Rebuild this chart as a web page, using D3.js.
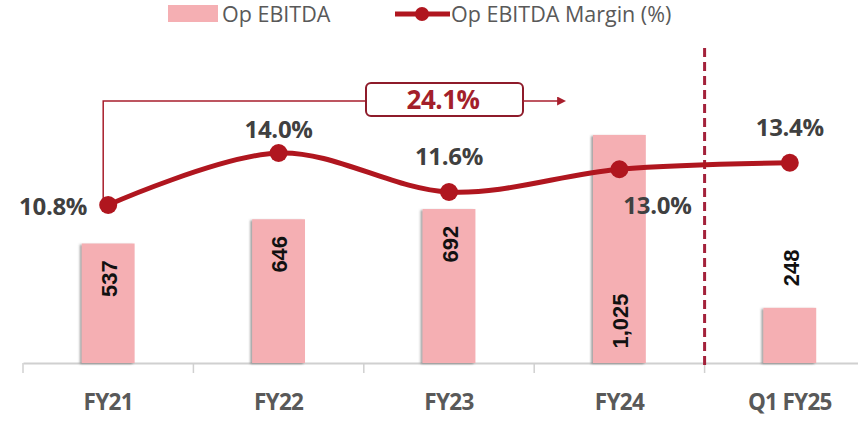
<!DOCTYPE html>
<html>
<head>
<meta charset="utf-8">
<script src="https://cdn.jsdelivr.net/npm/d3@7"></script>
<style>
  body { margin: 0; background: #fff; }
  svg { display: block; }
</style>
</head>
<body>
<div id="chart"></div>
<script>
// chart data
var categories = ['FY21', 'FY22', 'FY23', 'FY24', 'Q1 FY25'];
var ebitda = [537, 646, 692, 1025, 248];
var ebitdaLabels = ['537', '646', '692', '1,025', '248'];
var margin = [10.8, 14.0, 11.6, 13.0, 13.4];
var marginLabels = ['10.8%', '14.0%', '11.6%', '13.0%', '13.4%'];
var cagrLabel = '24.1%';

// where each label sits (bar labels / margin labels)
var barLabelPos = ['inEnd', 'inEnd', 'inEnd', 'inBase', 'outEnd'];
var marginLabelPos = ['left', 'topNear', 'top', 'bottomRight', 'top'];

var width = 858, height = 421;
var baseY = 363;

var svg = d3.select('#chart').append('svg')
    .attr('width', width)
    .attr('height', height);

var defs = svg.append('defs');
var shadow = defs.append('filter').attr('id', 'shadow')
    .attr('x', '-20%').attr('y', '-5%').attr('width', '140%').attr('height', '110%');
shadow.append('feDropShadow')
    .attr('dx', -2).attr('dy', 1)
    .attr('stdDeviation', 1.3)
    .attr('flood-color', '#555')
    .attr('flood-opacity', 0.55);

defs.append('marker').attr('id', 'arrow')
    .attr('viewBox', '0 0 10 10')
    .attr('refX', 1).attr('refY', 5)
    .attr('markerWidth', 6).attr('markerHeight', 6)
    .attr('orient', 'auto')
  .append('path')
    .attr('d', 'M0,0 L10,5 L0,10 Z')
    .attr('fill', '#A81E2C');

// scales
var x = d3.scaleBand()
    .domain(categories)
    .range([23, 875])
    .paddingInner(0.69)
    .paddingOuter(0.345);
var step = x.step();
var cx = function(c) { return x(c) + x.bandwidth() / 2; };

var yBar = d3.scaleLinear().domain([0, 1200]).range([baseY, baseY - 267]);
var yLine = d3.scaleLinear().domain([0, 20]).range([380.5, 55.5]);

// axis
var axis = d3.axisBottom(x).tickSize(0).tickSizeOuter(0).tickPadding(31);
var gx = svg.append('g')
    .attr('transform', 'translate(0,' + baseY + ')')
    .call(axis);
gx.select('.domain').attr('stroke', '#d0d0d0').attr('stroke-width', 2);
gx.selectAll('text')
    .attr('font-family', 'Open Sans, sans-serif')
    .attr('font-weight', 700)
    .attr('font-size', 22.5)
    .attr('letter-spacing', '-0.7')
    .attr('fill', '#595959');
gx.selectAll('.tickmark').data(categories).enter().append('line')
    .attr('x1', function(d) { return cx(d) - step / 2; })
    .attr('x2', function(d) { return cx(d) - step / 2; })
    .attr('y1', 0).attr('y2', 10)
    .attr('stroke', '#d0d0d0').attr('stroke-width', 1.5);

// bars
svg.selectAll('.bar').data(categories).enter().append('rect')
    .attr('class', 'bar')
    .attr('x', function(d) { return x(d); })
    .attr('width', x.bandwidth())
    .attr('y', function(d, i) { return yBar(ebitda[i]); })
    .attr('height', function(d, i) { return baseY - yBar(ebitda[i]); })
    .attr('fill', '#F5AFB3')
    .attr('filter', 'url(#shadow)');

// divider before the quarter
var divX = cx(categories[4]) - step / 2;
svg.append('line')
    .attr('x1', divX).attr('x2', divX)
    .attr('y1', 48).attr('y2', baseY + 6)
    .attr('stroke', '#A3213A')
    .attr('stroke-width', 3)
    .attr('stroke-dasharray', '9,5');

// bar value labels
svg.selectAll('.barlabel').data(categories).enter().append('text')
    .attr('class', 'barlabel')
    .attr('transform', function(d, i) {
        var top = yBar(ebitda[i]), yc;
        if (barLabelPos[i] === 'inEnd') yc = top + 35;
        else if (barLabelPos[i] === 'inBase') yc = baseY - 42;
        else yc = top - 40;
        return 'translate(' + (cx(d) + 1) + ',' + yc + ') rotate(-90)';
    })
    .attr('text-anchor', 'middle')
    .attr('dy', '0.35em')
    .attr('font-family', 'Liberation Sans, Arial, sans-serif')
    .attr('font-weight', 700)
    .attr('font-size', 22)
    .attr('fill', '#111')
    .text(function(d, i) { return ebitdaLabels[i]; });

// CAGR bracket
var x0 = cx(categories[0]) - 5;
var bracketY = 101;
svg.append('path')
    .attr('d', 'M' + x0 + ',' + yLine(margin[0]) + ' V' + bracketY + ' H366')
    .attr('fill', 'none')
    .attr('stroke', '#A81E2C')
    .attr('stroke-width', 1.5);
svg.append('rect')
    .attr('x', 366).attr('y', 83)
    .attr('width', 157).attr('height', 33)
    .attr('rx', 5)
    .attr('fill', '#fff')
    .attr('stroke', '#8E1B2A')
    .attr('stroke-width', 2);
svg.append('text')
    .attr('x', 443).attr('y', 109)
    .attr('text-anchor', 'middle')
    .attr('font-family', 'Open Sans, sans-serif')
    .attr('font-weight', 700)
    .attr('font-size', 26)
    .attr('letter-spacing', '-0.5')
    .attr('fill', '#A31F2B')
    .text(cagrLabel);
svg.append('line')
    .attr('x1', 523).attr('x2', 558)
    .attr('y1', bracketY).attr('y2', bracketY)
    .attr('stroke', '#A81E2C')
    .attr('stroke-width', 1.5)
    .attr('marker-end', 'url(#arrow)');

// margin line
var line = d3.line()
    .x(function(d, i) { return cx(categories[i]); })
    .y(function(d) { return yLine(d); })
    .curve(d3.curveCatmullRom.alpha(0.5));

svg.append('path')
    .datum(margin)
    .attr('d', line)
    .attr('fill', 'none')
    .attr('stroke', '#B0161F')
    .attr('stroke-width', 5);

svg.selectAll('.dot').data(margin).enter().append('circle')
    .attr('cx', function(d, i) { return cx(categories[i]); })
    .attr('cy', function(d) { return yLine(d); })
    .attr('r', 9)
    .attr('fill', '#B0161F');

svg.selectAll('.mlabel').data(margin).enter().append('text')
    .attr('x', function(d, i) {
        var p = marginLabelPos[i], c = cx(categories[i]);
        if (p === 'left') return c - 21;
        if (p === 'bottomRight') return c + 38;
        return c;
    })
    .attr('y', function(d, i) {
        var p = marginLabelPos[i], c = yLine(d);
        if (p === 'left') return c + 10;
        if (p === 'bottomRight') return c + 45;
        if (p === 'topNear') return c - 15;
        return c - 27;
    })
    .attr('text-anchor', function(d, i) { return marginLabelPos[i] === 'left' ? 'end' : 'middle'; })
    .attr('font-family', 'Open Sans, sans-serif')
    .attr('font-weight', 700)
    .attr('font-size', 24)
    .attr('letter-spacing', '-0.3')
    .attr('fill', '#404040')
    .text(function(d, i) { return marginLabels[i]; });

// legend
var legend = svg.append('g').attr('font-family', 'Open Sans, sans-serif')
    .attr('font-size', 21.5).attr('fill', '#595959');
legend.append('rect')
    .attr('x', 168).attr('y', 5).attr('width', 50).attr('height', 17)
    .attr('fill', '#F5AFB3');
legend.append('text').attr('x', 222).attr('y', 22).text('Op EBITDA');
legend.append('line')
    .attr('x1', 395).attr('x2', 450).attr('y1', 14).attr('y2', 14)
    .attr('stroke', '#B0161F').attr('stroke-width', 5);
legend.append('circle')
    .attr('cx', 422).attr('cy', 14).attr('r', 7).attr('fill', '#B0161F');
legend.append('text').attr('x', 451).attr('y', 22).text('Op EBITDA Margin (%)');
</script>
</body>
</html>
